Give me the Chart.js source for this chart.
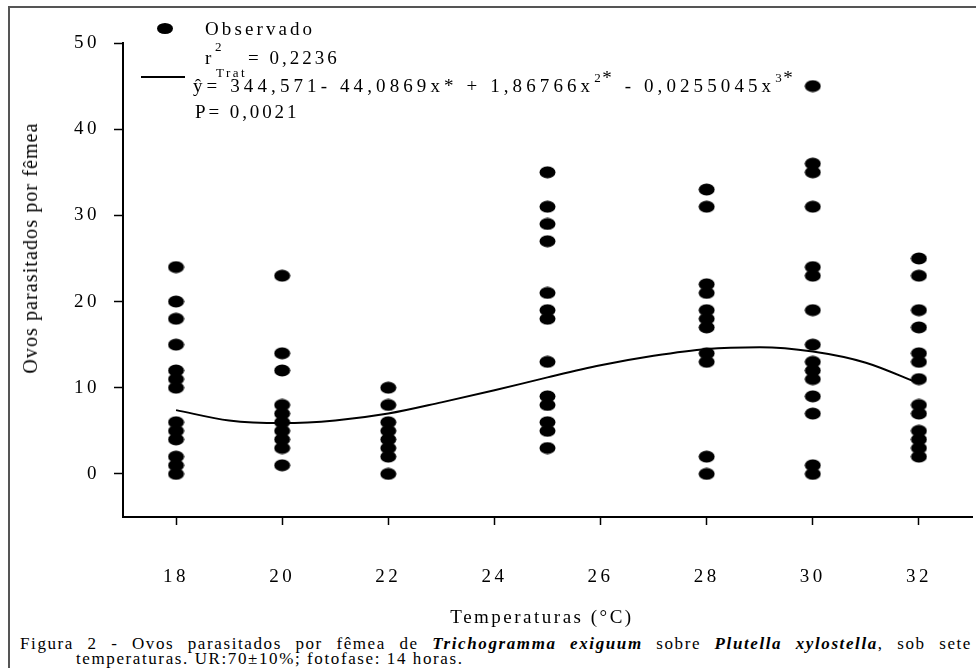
<!DOCTYPE html>
<html lang="pt-br">
<head>
  <meta charset="UTF-8" />
  <title>Ovos parasitados por fêmea - Trichogramma exiguum</title>
  <script src="https://cdn.jsdelivr.net/npm/chart.js"></script>
  <style>
    body { margin: 0; background: #fff; }
    .figura {
      position: relative; width: 976px; height: 668px; overflow: hidden;
      font-family: "Liberation Serif", "Times New Roman", Times, "Nimbus Roman", "DejaVu Serif", serif; color: #000;
    }
    .moldura {
      position: absolute; left: 8px; top: 6px; width: 1000px; height: 700px;
      border-left: 2px solid #555; border-top: 2px solid #555;
    }
    #grafico { position: absolute; left: 0; top: 0; }
    .txt { position: absolute; white-space: nowrap; line-height: 1; font-size: 19px; letter-spacing: 3.1px; }
    .pequeno { font-size: 13px; letter-spacing: 1.5px; }
    .ponto { position: absolute; left: 157px; top: 23px; width: 16px; height: 11px; border-radius: 50%; background: #000; }
    .traco { position: absolute; left: 141px; top: 76px; width: 44px; height: 2px; background: #000; }
    .sobe { position: relative; }
    .titulo-y {
      position: absolute; left: 30px; top: 248px; font-size: 20px; letter-spacing: 1.1px;
      transform: translate(-50%, -50%) rotate(-90deg); white-space: nowrap; line-height: 1;
    }
    .titulo-x {
      position: absolute; left: 542px; top: 616px; font-size: 19px; letter-spacing: 2.5px;
      transform: translate(-50%, -50%); white-space: nowrap; line-height: 1;
    }
    .legenda-fig { position: absolute; font-size: 17px; letter-spacing: 1.6px; white-space: nowrap; line-height: 1; }
    .justificada { width: 952px; text-align: justify; text-align-last: justify; white-space: normal; }
  </style>
</head>
<body>
  <div class="figura">
    <div class="moldura"></div>
    <canvas id="grafico" width="976" height="630"></canvas>

    <div class="ponto"></div>
    <div class="txt" style="left:205px; top:19px;">Observado</div>
    <div class="txt" style="left:205px; top:48px;">r</div>
    <div class="txt pequeno" style="left:215px; top:40px;">2</div>
    <div class="txt pequeno" style="left:216px; top:66px; letter-spacing:2.5px;">Trat</div>
    <div class="txt" style="left:248px; top:48px; letter-spacing:3px;">= 0,2236</div>
    <div class="traco"></div>
    <div class="txt" style="left:193px; top:76px; letter-spacing:4.1px;">ŷ= 344,571- 44,0869x* + 1,86766x<span class="pequeno sobe" style="top:-10px">2</span><span class="sobe" style="top:-8px">*</span> - 0,0255045x<span class="pequeno sobe" style="top:-10px">3</span><span class="sobe" style="top:-8px">*</span></div>
    <div class="txt" style="left:195px; top:102px; letter-spacing:2.9px;">P= 0,0021</div>

    <div class="titulo-y">Ovos parasitados por fêmea</div>
    <div class="titulo-x">Temperaturas (°C)</div>

    <div class="legenda-fig justificada" style="left:20px; top:635px;">Figura 2 - Ovos parasitados por fêmea de <b><i>Trichogramma exiguum</i></b> sobre <b><i>Plutella xylostella</i></b>, sob sete</div>
    <div class="legenda-fig" style="left:76px; top:650px;">temperaturas. UR:70±10%; fotofase: 14 horas.</div>
  </div>

  <script>
    // observacoes por temperatura (ovos parasitados por femea)
    const temperaturas = [18, 20, 22, 25, 28, 30, 32];
    const ovos18 = [24, 20, 18, 15, 12, 11, 10, 6, 5, 4, 2, 1, 0];
    const ovos20 = [23, 14, 12, 8, 7, 6, 5, 4, 3, 1];
    const ovos22 = [10, 8, 6, 5, 4, 3, 2, 0];
    const ovos25 = [35, 31, 29, 27, 21, 19, 18, 13, 9, 8, 6, 5, 3];
    const ovos28 = [33, 31, 22, 21, 19, 18, 17, 14, 13, 2, 0];
    const ovos30 = [45, 36, 35, 31, 24, 23, 19, 15, 13, 12, 11, 9, 7, 1, 0];
    const ovos32 = [25, 23, 19, 17, 14, 13, 11, 8, 7, 5, 4, 3, 2];

    // curva ajustada
    const curvaX = [18, 19, 20, 21, 22, 23, 24, 25, 26, 27, 28, 29, 30, 31, 32];
    const curvaY = [7.4, 6.2, 5.9, 6.2, 7.0, 8.3, 9.7, 11.2, 12.6, 13.7, 14.5, 14.7, 14.2, 12.9, 10.5];

    const ticksX = [18, 20, 22, 24, 26, 28, 30, 32];
    const ticksY = [0, 10, 20, 30, 40, 50];

    const fonteSerif = '"Liberation Serif", "Times New Roman", Times, "Nimbus Roman", "DejaVu Serif", serif';

    const grupos = [ovos18, ovos20, ovos22, ovos25, ovos28, ovos30, ovos32];
    const observados = [];
    grupos.forEach((lista, i) => {
      lista.forEach(v => observados.push({ x: temperaturas[i], y: v }));
    });
    const curva = curvaX.map((x, i) => ({ x: x, y: curvaY[i] }));

    // marcador eliptico preto
    const marcador = document.createElement('canvas');
    marcador.width = 17;
    marcador.height = 13;
    const m = marcador.getContext('2d');
    m.fillStyle = '#000';
    m.beginPath();
    m.ellipse(8.5, 6.5, 8, 6, 0, 0, Math.PI * 2);
    m.fill();

    const espacamento = {
      id: 'espacamento',
      beforeDraw(chart) {
        chart.ctx.letterSpacing = '3.5px';
      }
    };

    const ctx = document.getElementById('grafico').getContext('2d');
    new Chart(ctx, {
      type: 'scatter',
      data: {
        datasets: [
          {
            type: 'line',
            label: 'Ajuste',
            data: curva,
            borderColor: '#000',
            borderWidth: 2,
            pointRadius: 0,
            pointBorderWidth: 0,
            tension: 0.4,
            cubicInterpolationMode: 'monotone',
          },
          {
            label: 'Observado',
            data: observados,
            pointStyle: marcador,
            pointRadius: 1,
            pointBorderWidth: 0,
          },
        ],
      },
      plugins: [espacamento],
      options: {
        responsive: false,
        animation: false,
        layout: { padding: { top: 43, left: 0, right: 0, bottom: 0 } },
        plugins: {
          legend: { display: false },
          tooltip: { enabled: false },
        },
        scales: {
          x: {
            type: 'linear',
            min: 17,
            max: 33,
            afterFit: s => { s.height = 113; s.paddingLeft = 0; s.paddingRight = 0; },
            afterBuildTicks: s => { s.ticks = ticksX.map(v => ({ value: v })); },
            border: { display: true, color: '#000', width: 2 },
            grid: { display: true, drawOnChartArea: false, drawTicks: true, tickLength: 8, tickColor: '#000', tickWidth: 1.5 },
            ticks: {
              color: '#000',
              padding: 41,
              font: { family: fonteSerif, size: 19 },
            },
          },
          y: {
            min: -5,
            max: 50,
            afterFit: s => { s.width = 123; s.paddingTop = 0; s.paddingBottom = 0; },
            afterBuildTicks: s => { s.ticks = ticksY.map(v => ({ value: v })); },
            border: { display: true, color: '#000', width: 2 },
            grid: { display: true, drawOnChartArea: false, drawTicks: true, tickLength: 9, tickColor: '#000', tickWidth: 1.5 },
            ticks: {
              color: '#000',
              padding: 14,
              font: { family: fonteSerif, size: 19 },
            },
          },
        },
      },
    });
  </script>
</body>
</html>
